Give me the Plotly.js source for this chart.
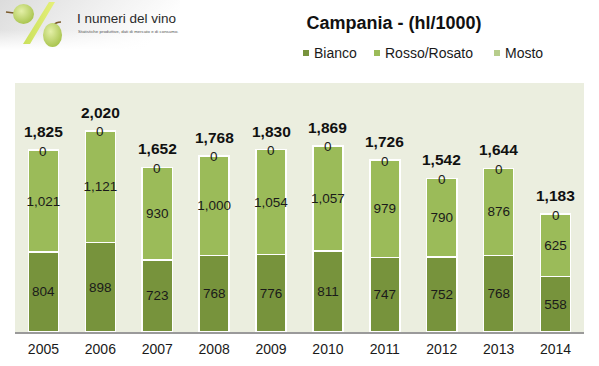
<!DOCTYPE html>
<html>
<head>
<meta charset="utf-8">
<script src="https://cdn.plot.ly/plotly-3.0.1.min.js"></script>
<style>html,body{margin:0;padding:0;background:#fff;}#chart{width:599px;height:366px;}</style>
</head>
<body>
<div id="chart"></div>
<script>
var years = ['2005','2006','2007','2008','2009','2010','2011','2012','2013','2014'];
var bianco = [804, 898, 723, 768, 776, 811, 747, 752, 768, 558];
var rosso = [1021, 1121, 930, 1000, 1054, 1057, 979, 790, 876, 625];
var mosto = [0, 0, 0, 0, 0, 0, 0, 0, 0, 0];
var totals = [1825, 2020, 1652, 1768, 1830, 1869, 1726, 1542, 1644, 1183];
var seriesNames = ['Bianco', 'Rosso/Rosato', 'Mosto'];
var seriesColors = ['#77933C', '#9BBB59', '#B7CD8C'];

function fmt(v){ return v.toLocaleString('en-US'); }
var FONT = 'Liberation Sans, Arial, sans-serif';

var data = [bianco, rosso, mosto].map(function(vals, k){
  return {
    type: 'bar', x: years, y: vals, name: seriesNames[k], hoverinfo: 'none',
    marker: {color: seriesColors[k], line: {color: '#FFFFFF', width: 1.5}},
    text: k < 2 ? vals.map(fmt) : vals.map(function(){ return ''; }),
    textposition: 'inside', insidetextanchor: 'middle', textangle: 0,
    constraintext: 'none', cliponaxis: false,
    insidetextfont: {family: FONT, size: 13.5, color: '#1a1a1a'},
    showlegend: false
  };
});

var annotations = [];
years.forEach(function(y, i){
  // stacked top of the bar = bianco + rosso + mosto
  var top = bianco[i] + rosso[i] + mosto[i];
  annotations.push({x: i, y: top, xref: 'x', yref: 'y', text: fmt(mosto[i]), showarrow: false,
    yanchor: 'middle', yshift: -1,
    font: {family: FONT, size: 13.5, color: '#1a1a1a'}});
  annotations.push({x: i, y: top, xref: 'x', yref: 'y', text: '<b>' + fmt(totals[i]) + '</b>', showarrow: false,
    yanchor: 'middle', yshift: 18.5,
    font: {family: FONT, size: 15.5, color: '#111'}});
});

// legend (compact, like the original)
var legendX = [303, 374, 494];
var shapes = [];
seriesNames.forEach(function(n, k){
  shapes.push({type: 'rect', xref: 'paper', yref: 'paper',
    x0: (legendX[k] - 15) / 569, x1: (legendX[k] + 6 - 15) / 569,
    y0: (366 - 34 - 56) / 249, y1: (366 - 34 - 50) / 249,
    fillcolor: seriesColors[k], line: {width: 0}});
  annotations.push({xref: 'paper', yref: 'paper', x: (legendX[k] + 9 - 15) / 569, y: (366 - 34 - 53) / 249,
    xanchor: 'left', yanchor: 'middle', showarrow: false, text: n,
    font: {family: FONT, size: 14, color: '#1a1a1a'}});
});

// logo text
annotations.push({xref: 'paper', yref: 'paper', x: (75 - 15) / 569, y: (366 - 34 - 19) / 249,
  xanchor: 'left', yanchor: 'middle', showarrow: false, text: 'I numeri del vino',
  font: {family: FONT, size: 13.5, color: '#2a2a2a'}});
annotations.push({xref: 'paper', yref: 'paper', x: (76 - 15) / 569, y: (366 - 34 - 32) / 249,
  xanchor: 'left', yanchor: 'middle', showarrow: false, text: 'Statistiche produttive, dati di mercato e di consumo.',
  font: {family: FONT, size: 4.4, color: '#555'}});

var logoSvg = '<svg xmlns="http://www.w3.org/2000/svg" width="180" height="50" viewBox="0 0 180 50">' +
  '<defs><linearGradient id="bg" x1="0" y1="0" x2="1" y2="0.3"><stop offset="0" stop-color="#dcdcdc"/><stop offset="0.6" stop-color="#f2f2f2"/><stop offset="1" stop-color="#ffffff"/></linearGradient>' +
  '<linearGradient id="fade" x1="0" y1="0" x2="0" y2="1"><stop offset="0.6" stop-color="#fff" stop-opacity="0"/><stop offset="1" stop-color="#fff" stop-opacity="1"/></linearGradient>' +
  '<radialGradient id="g1" cx="0.4" cy="0.35" r="0.7"><stop offset="0" stop-color="#e4f0a8"/><stop offset="1" stop-color="#a6c24a"/></radialGradient>' +
  '<linearGradient id="sl" x1="0" y1="0" x2="1" y2="0"><stop offset="0" stop-color="#c9e05a"/><stop offset="1" stop-color="#e6f07a"/></linearGradient></defs>' +
  '<rect width="180" height="50" fill="url(#bg)"/><rect width="180" height="50" fill="url(#fade)"/>' +
  '<path d="M6,12 L14,13" stroke="#7a5a2a" stroke-width="1.5"/>' +
  '<ellipse cx="23.5" cy="14" rx="10.5" ry="10" fill="url(#g1)"/>' +
  '<polygon points="49,2 55,2 30,44 23,44" fill="url(#sl)"/>' +
  '<path d="M61,22 Q56,22 54,25" stroke="#7a5a2a" stroke-width="1.5" fill="none"/>' +
  '<ellipse cx="52.5" cy="35" rx="9.5" ry="12" fill="url(#g1)"/>' +
  '</svg>';

var layout = {
  width: 599, height: 366,
  margin: {l: 15, r: 15, t: 83, b: 34, pad: 0},
  paper_bgcolor: '#FFFFFF', plot_bgcolor: '#EBEEDF',
  barmode: 'stack', bargap: 0.47,
  title: {text: '<b>Campania - (hl/1000)</b>', x: 394 / 599, xanchor: 'center', xref: 'container',
    y: 1 - 23 / 366, yanchor: 'middle', yref: 'container',
    font: {family: FONT, size: 18, color: '#111'}},
  xaxis: {type: 'category', range: [-0.5, 9.5], autorange: false, showgrid: false, zeroline: false,
    showline: true, linecolor: '#9a9a9a', linewidth: 1.5,
    ticks: '', ticklabelstandoff: 4,
    tickfont: {family: FONT, size: 14, color: '#1a1a1a'}, fixedrange: true},
  yaxis: {range: [0, 2500], autorange: false, showgrid: false, zeroline: false, showline: false,
    showticklabels: false, ticks: '', fixedrange: true},
  annotations: annotations,
  shapes: shapes,
  images: [{source: 'data:image/svg+xml;charset=utf-8,' + encodeURIComponent(logoSvg),
    xref: 'paper', yref: 'paper', x: -15 / 569, y: (366 - 34) / 249, sizex: 180 / 569, sizey: 50 / 249,
    xanchor: 'left', yanchor: 'top', sizing: 'stretch', layer: 'below'}],
  uniformtext: {minsize: 13.5, mode: 'show'},
  showlegend: false
};

Plotly.newPlot('chart', data, layout, {displayModeBar: false, staticPlot: true});
</script>
</body>
</html>
